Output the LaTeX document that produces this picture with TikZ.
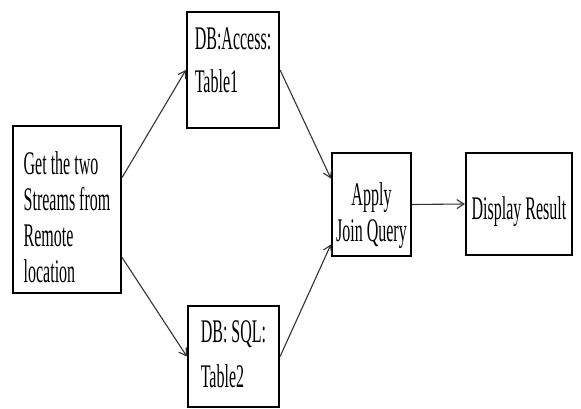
\documentclass[tikz,border=0pt]{standalone}
\usepackage{fontspec}
\newfontfamily\boxfont[FakeStretch=0.485]{Liberation Serif}
\usetikzlibrary{arrows.meta}

\begin{document}
\begin{tikzpicture}[x=1pt, y=1pt,
    box/.style={draw, line width=2.2pt, inner sep=1pt,
        font=\boxfont\fontsize{33}{36}\selectfont},
    flow/.style={line width=1.1pt, draw=black!80,
        -{Straight Barb[length=7pt, width=9pt]}}]
    \useasboundingbox (0,0) rectangle (581,409);

    % Boxes
    \node[box, align=left, minimum width=108pt, minimum height=167pt,
        text height=155pt, text depth=8pt] (src) at (67,199.5)
        {Get the two\\Streams from\\Remote\\location};
    \node[box, align=left, minimum width=92pt, minimum height=116pt,
        text height=54pt, text depth=8pt] (acc) at (233,339)
        {DB:Access:\\[7pt]Table1};
    \node[box, align=left, minimum width=91pt, minimum height=101pt,
        text height=71pt, text depth=8pt] (sql) at (233.5,52.5)
        {DB: SQL:\\[9pt]Table2};
    \node[box, align=center, minimum width=79pt, minimum height=103pt,
        text height=83pt, text depth=8pt] (join) at (371.5,204.5)
        {Apply\\Join Query};
    \node[box, minimum width=106pt, minimum height=102pt,
        text height=40pt, text depth=8pt] (res) at (519,205)
        {Display Result};

    % Arrows
    \draw[flow] ([yshift=32pt]src.east) -- (acc.west);
    \draw[flow] ([yshift=-48pt]src.east) -- (sql.west);
    \draw[flow] (acc.east) -- ([yshift=26pt]join.west);
    \draw[flow] (sql.east) -- ([yshift=-40pt]join.west);
    \draw[flow] (join.east) -- (res.west);
\end{tikzpicture}
\end{document}
